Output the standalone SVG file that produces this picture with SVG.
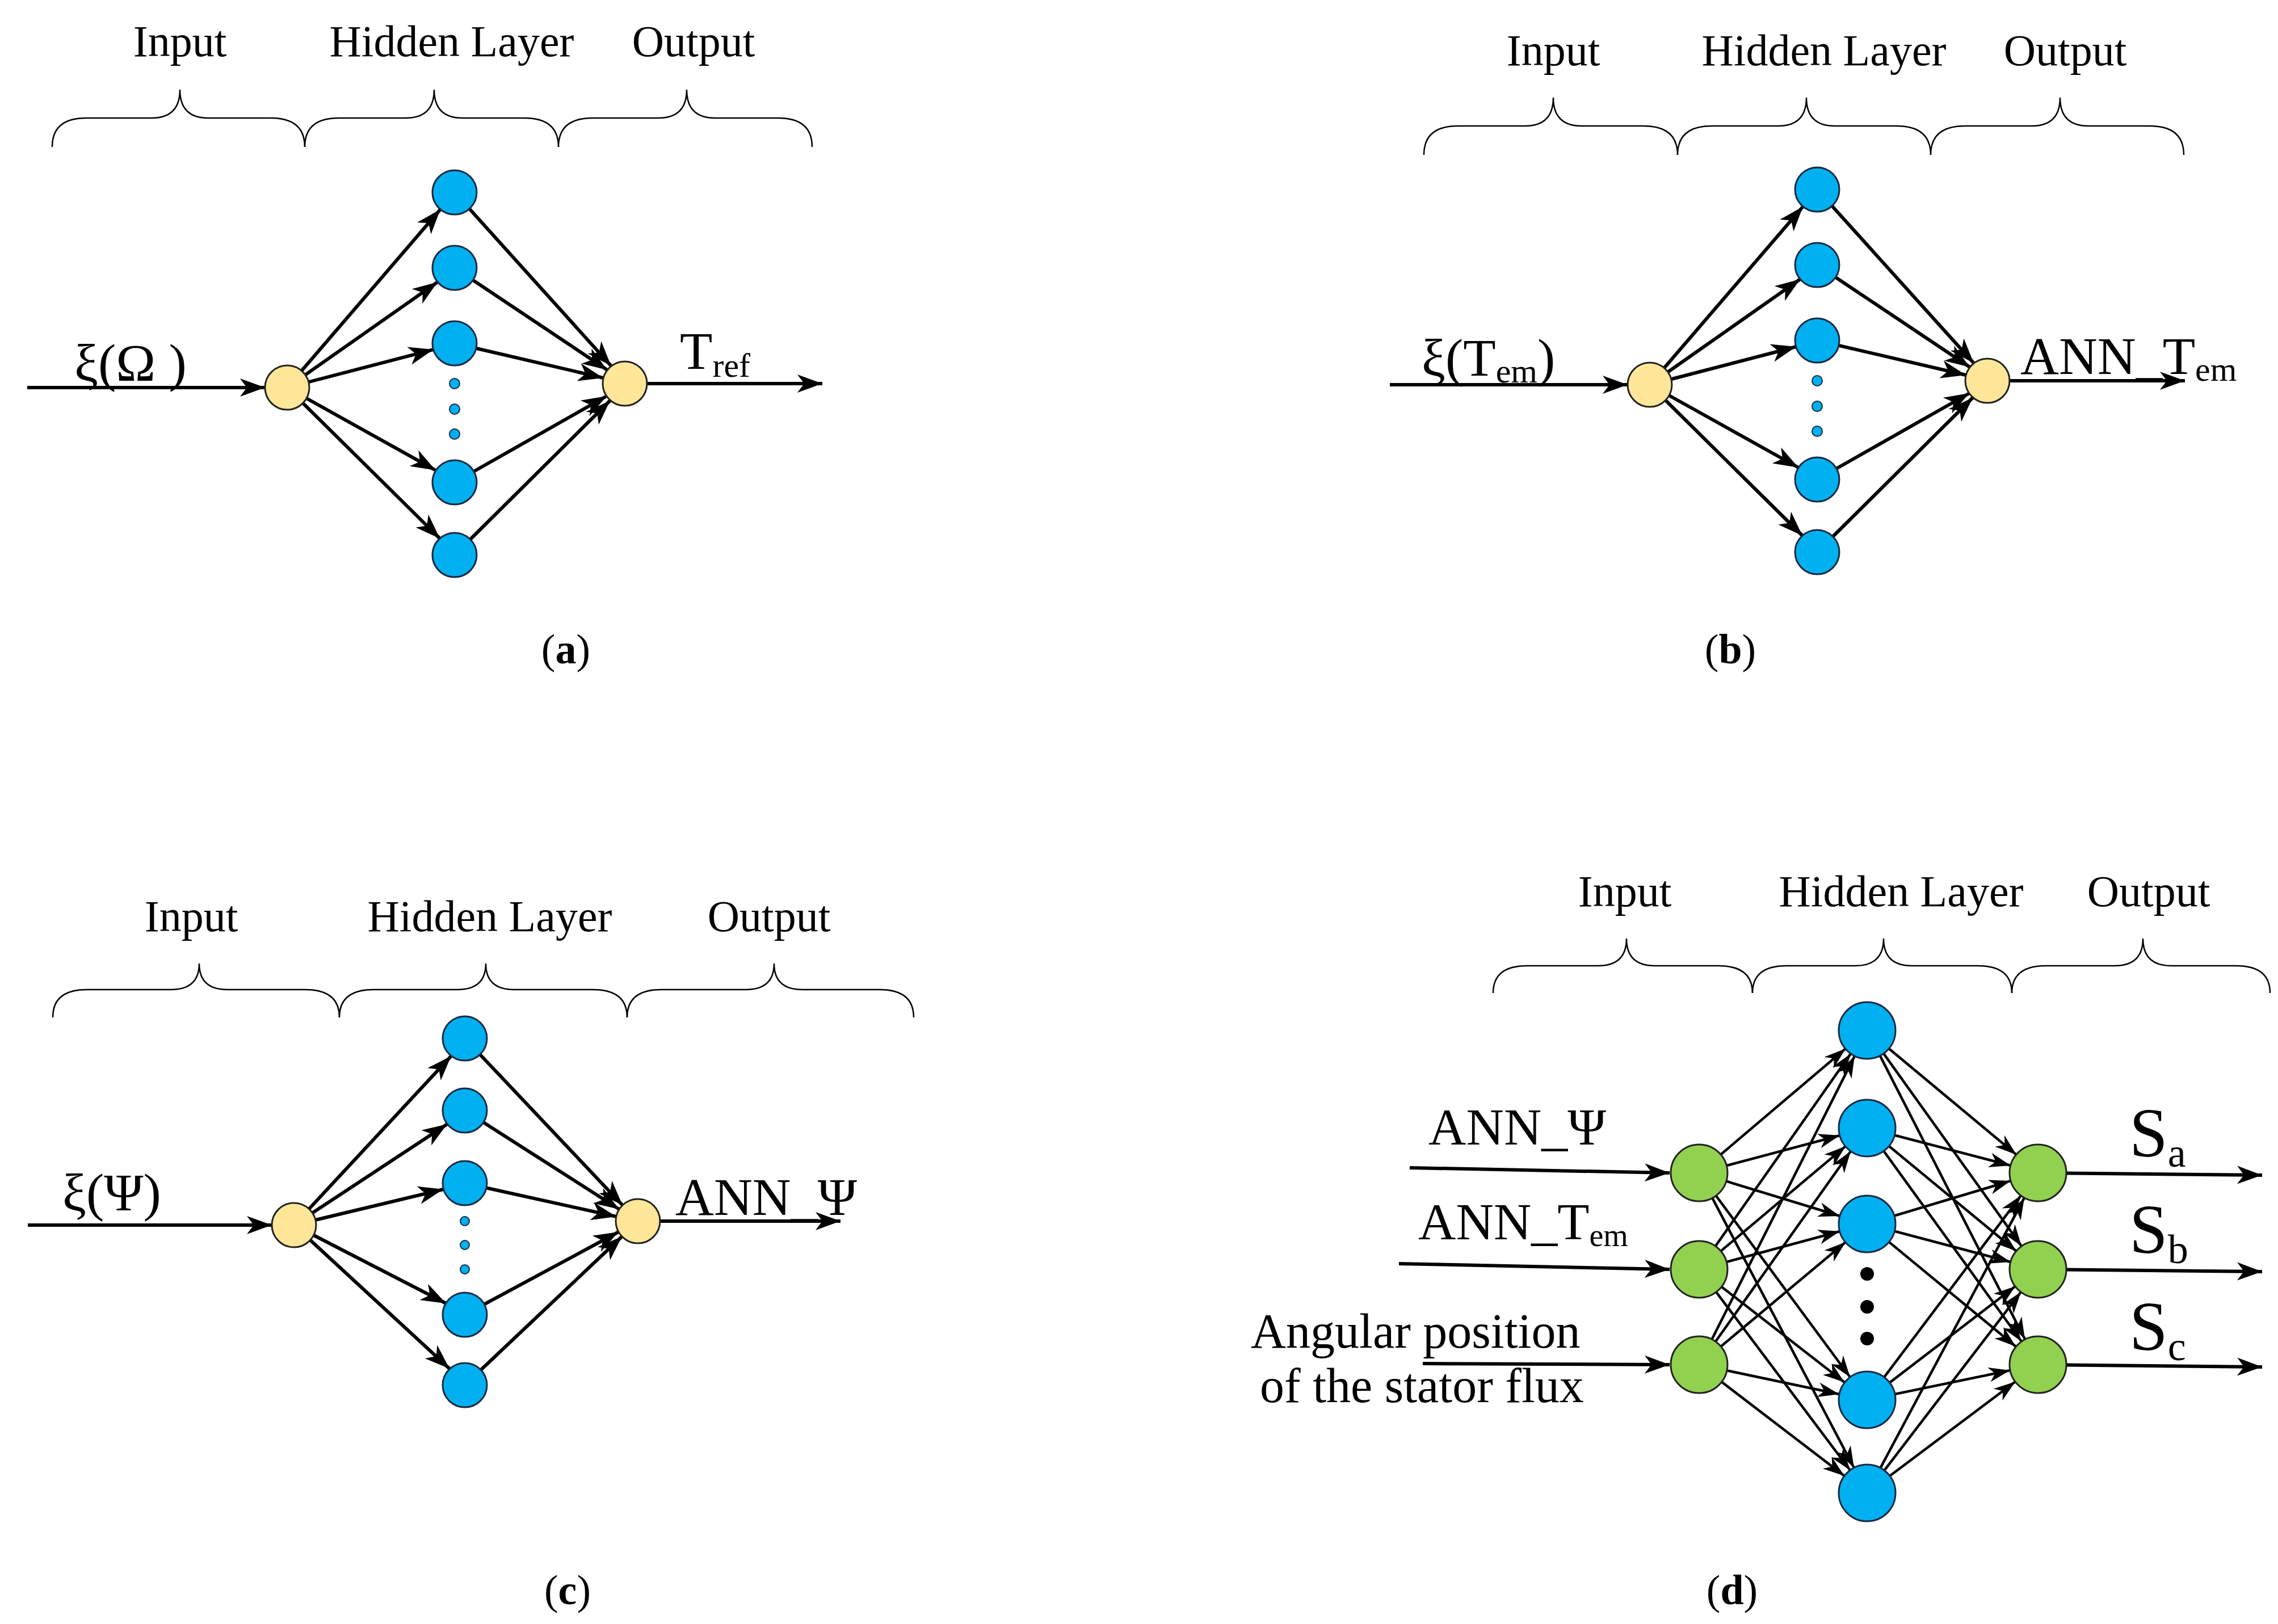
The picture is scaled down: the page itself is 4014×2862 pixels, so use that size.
<svg xmlns="http://www.w3.org/2000/svg" width="4014" height="2862" viewBox="0 0 4014 2862">
<defs>
<style>
.t{font-family:"Liberation Serif","Times New Roman",serif;fill:#000}
.lb{font-size:78px;text-anchor:middle}
.br{fill:none;stroke:#000;stroke-width:2.5}
.c{fill:none;stroke:#000;stroke-width:6;marker-end:url(#ah)}
.cd{fill:none;stroke:#000;stroke-width:4.5;marker-end:url(#ahd)}
.y{fill:#FFE699;stroke:#222;stroke-width:3}
.b{fill:#00B0F0;stroke:#1a2a40;stroke-width:3}
.g{fill:#92D050;stroke:#222;stroke-width:3}
.dot{fill:#00B0F0;stroke:#1a2a40;stroke-width:2}
</style>
<marker id="ah" markerUnits="userSpaceOnUse" viewBox="-46 -18 48 36" markerWidth="48" markerHeight="36" refX="0" refY="0" orient="auto"><path d="M0,0 L-44,-16 L-32,0 L-44,16 Z" fill="#000"/></marker>
<marker id="ahd" markerUnits="userSpaceOnUse" viewBox="-40 -15 42 30" markerWidth="42" markerHeight="30" refX="0" refY="0" orient="auto"><path d="M0,0 L-38,-13 L-27,0 L-38,13 Z" fill="#000"/></marker>
</defs>
<rect width="4014" height="2862" fill="#fff"/>

<!-- Panel a -->
<g id="braces-a" class="br">
<path d="M92,259 Q92,208 152,208 L267,208 Q317,208 317,158 Q317,208 367,208 L477,208 Q537,208 537,259"/>
<path d="M537,259 Q537,208 597,208 L715,208 Q765,208 765,158 Q765,208 815,208 L924,208 Q984,208 984,259"/>
<path d="M984,259 Q984,208 1044,208 L1160,208 Q1210,208 1210,158 Q1210,208 1260,208 L1371,208 Q1431,208 1431,259"/>
</g>
<g class="t lb"><text x="317" y="99">Input</text><text x="796" y="99">Hidden Layer</text><text x="1222" y="99">Output</text></g>
<g id="net-a">
<g id="connectors-a">
<path class="c" d="M48,683 L467,683"/>
<path class="c" d="M1101,676 L1449,676"/>
<path class="c" d="M506,683 L776,369"/>
<path class="c" d="M506,683 L771,497"/>
<path class="c" d="M506,683 L764,616"/>
<path class="c" d="M506,683 L768,829"/>
<path class="c" d="M506,683 L775,949"/>
<path class="c" d="M801,339 L1077,645"/>
<path class="c" d="M801,472 L1070,652"/>
<path class="c" d="M801,605 L1063,666"/>
<path class="c" d="M801,850 L1069,698"/>
<path class="c" d="M801,978 L1075,706"/>
</g>
<g id="a-in"><circle class="y" cx="506" cy="683" r="39"/></g>
<g id="a-h1"><circle class="b" cx="801" cy="339" r="39"/></g>
<g id="a-h2"><circle class="b" cx="801" cy="472" r="39"/></g>
<g id="a-h3"><circle class="b" cx="801" cy="605" r="39"/></g>
<g id="a-dots"><circle class="dot" cx="801" cy="676" r="9"/><circle class="dot" cx="801" cy="721" r="9"/><circle class="dot" cx="801" cy="765" r="9"/></g>
<g id="a-h4"><circle class="b" cx="801" cy="850" r="39"/></g>
<g id="a-h5"><circle class="b" cx="801" cy="978" r="39"/></g>
<g id="a-out"><circle class="y" cx="1101" cy="676" r="39"/></g>
</g>
<text class="t" x="131" y="671" font-size="94">ξ(Ω )</text>
<text class="t" x="1198" y="650" font-size="94">T<tspan font-size="60" dy="14">ref</tspan></text>
<text class="t" x="997" y="1169" font-size="74" text-anchor="middle">(<tspan font-weight="bold">a</tspan>)</text>

<!-- Panel b -->
<g id="braces-b" class="br">
<path d="M2509,273 Q2509,222 2569,222 L2687,222 Q2737,222 2737,172 Q2737,222 2787,222 L2896,222 Q2956,222 2956,273"/>
<path d="M2956,273 Q2956,222 3016,222 L3133,222 Q3183,222 3183,172 Q3183,222 3233,222 L3342,222 Q3402,222 3402,273"/>
<path d="M3402,273 Q3402,222 3462,222 L3580,222 Q3630,222 3630,172 Q3630,222 3680,222 L3788,222 Q3848,222 3848,273"/>
</g>
<g class="t lb"><text x="2737" y="115">Input</text><text x="3214" y="115">Hidden Layer</text><text x="3639" y="115">Output</text></g>
<text class="t" x="3560" y="659" font-size="94">ANN_T<tspan font-size="60" dy="12">em</tspan></text>
<g id="net-b" transform="translate(2401,-5)">
<g id="connectors-b">
<path class="c" d="M48,683 L467,683"/>
<path class="c" d="M1101,676 L1449,676" stroke-width="10"/>
<path class="c" d="M506,683 L776,369"/>
<path class="c" d="M506,683 L771,497"/>
<path class="c" d="M506,683 L764,616"/>
<path class="c" d="M506,683 L768,829"/>
<path class="c" d="M506,683 L775,949"/>
<path class="c" d="M801,339 L1077,645"/>
<path class="c" d="M801,472 L1070,652"/>
<path class="c" d="M801,605 L1063,666"/>
<path class="c" d="M801,850 L1069,698"/>
<path class="c" d="M801,978 L1075,706"/>
</g>
<g id="b-in"><circle class="y" cx="506" cy="683" r="39"/></g>
<g id="b-h1"><circle class="b" cx="801" cy="339" r="39"/></g>
<g id="b-h2"><circle class="b" cx="801" cy="472" r="39"/></g>
<g id="b-h3"><circle class="b" cx="801" cy="605" r="39"/></g>
<g id="b-dots"><circle class="dot" cx="801" cy="676" r="9"/><circle class="dot" cx="801" cy="721" r="9"/><circle class="dot" cx="801" cy="765" r="9"/></g>
<g id="b-h4"><circle class="b" cx="801" cy="850" r="39"/></g>
<g id="b-h5"><circle class="b" cx="801" cy="978" r="39"/></g>
<g id="b-out"><circle class="y" cx="1101" cy="676" r="39"/></g>
</g>
<text class="t" x="2505" y="662" font-size="94">ξ(T<tspan font-size="60" dy="12">em</tspan><tspan dy="-12">)</tspan></text>
<text class="t" x="3049" y="1169" font-size="74" text-anchor="middle">(<tspan font-weight="bold">b</tspan>)</text>

<!-- Panel c -->
<g id="braces-c" class="br">
<path d="M93,1793 Q93,1744 153,1744 L301,1744 Q351,1744 351,1698 Q351,1744 401,1744 L538,1744 Q598,1744 598,1793"/>
<path d="M598,1793 Q598,1744 658,1744 L806,1744 Q856,1744 856,1698 Q856,1744 906,1744 L1045,1744 Q1105,1744 1105,1793"/>
<path d="M1105,1793 Q1105,1744 1165,1744 L1314,1744 Q1364,1744 1364,1698 Q1364,1744 1414,1744 L1550,1744 Q1610,1744 1610,1793"/>
</g>
<g class="t lb"><text x="337" y="1641">Input</text><text x="863" y="1641">Hidden Layer</text><text x="1355" y="1641">Output</text></g>
<text class="t" x="1190" y="2141" font-size="94">ANN_Ψ</text>
<g id="net-c">
<g id="connectors-c">
<path class="c" d="M49,2159 L479,2159"/>
<path class="c" d="M1124,2152 L1481,2152" stroke-width="10"/>
<path class="c" d="M518,2159 L795,1861"/>
<path class="c" d="M518,2159 L788,1981"/>
<path class="c" d="M518,2159 L781,2096"/>
<path class="c" d="M518,2159 L786,2297"/>
<path class="c" d="M518,2159 L792,2412"/>
<path class="c" d="M819,1830 L1097,2124"/>
<path class="c" d="M819,1957 L1091,2131"/>
<path class="c" d="M819,2085 L1086,2144"/>
<path class="c" d="M819,2317 L1090,2171"/>
<path class="c" d="M819,2441 L1096,2179"/>
</g>
<g id="c-in"><circle class="y" cx="518" cy="2159" r="39"/></g>
<g id="c-h1"><circle class="b" cx="819" cy="1830" r="39"/></g>
<g id="c-h2"><circle class="b" cx="819" cy="1957" r="39"/></g>
<g id="c-h3"><circle class="b" cx="819" cy="2085" r="39"/></g>
<g id="c-dots"><circle class="dot" cx="819" cy="2152" r="8"/><circle class="dot" cx="819" cy="2194" r="8"/><circle class="dot" cx="819" cy="2237" r="8"/></g>
<g id="c-h4"><circle class="b" cx="819" cy="2317" r="39"/></g>
<g id="c-h5"><circle class="b" cx="819" cy="2441" r="39"/></g>
<g id="c-out"><circle class="y" cx="1124" cy="2152" r="39"/></g>
</g>
<text class="t" x="110" y="2133" font-size="94">ξ(Ψ)</text>
<text class="t" x="1000" y="2827" font-size="74" text-anchor="middle">(<tspan font-weight="bold">c</tspan>)</text>

<!-- Panel d -->
<g id="braces-d" class="br">
<path d="M2631,1750 Q2631,1702 2691,1702 L2816,1702 Q2866,1702 2866,1654 Q2866,1702 2916,1702 L3028,1702 Q3088,1702 3088,1750"/>
<path d="M3088,1750 Q3088,1702 3148,1702 L3269,1702 Q3319,1702 3319,1654 Q3319,1702 3369,1702 L3485,1702 Q3545,1702 3545,1750"/>
<path d="M3545,1750 Q3545,1702 3605,1702 L3726,1702 Q3776,1702 3776,1654 Q3776,1702 3826,1702 L3940,1702 Q4000,1702 4000,1750"/>
</g>
<g class="t lb"><text x="2863" y="1597">Input</text><text x="3350" y="1597">Hidden Layer</text><text x="3786" y="1597">Output</text></g>
<g id="net-d">
<g id="connectors-d">
<path class="c" d="M2484,2058 L2942,2067"/>
<path class="c" d="M2465,2227 L2942,2237"/>
<path class="c" d="M2507,2403 L2942,2405"/>
<path class="c" d="M3591,2067 L3986,2071"/>
<path class="c" d="M3591,2237 L3986,2241"/>
<path class="c" d="M3591,2405 L3986,2409"/>
<path class="cd" d="M2994,2067 L3252,1848"/>
<path class="cd" d="M2994,2067 L3242,2001"/>
<path class="cd" d="M2994,2067 L3242,2143"/>
<path class="cd" d="M2994,2067 L3260,2427"/>
<path class="cd" d="M2994,2067 L3267,2587"/>
<path class="cd" d="M2994,2237 L3261,1857"/>
<path class="cd" d="M2994,2237 L3252,2020"/>
<path class="cd" d="M2994,2237 L3242,2170"/>
<path class="cd" d="M2994,2237 L3250,2436"/>
<path class="cd" d="M2994,2237 L3260,2591"/>
<path class="cd" d="M2994,2405 L3268,1861"/>
<path class="cd" d="M2994,2405 L3261,2029"/>
<path class="cd" d="M2994,2405 L3252,2189"/>
<path class="cd" d="M2994,2405 L3241,2457"/>
<path class="cd" d="M2994,2405 L3250,2601"/>
<path class="cd" d="M3290,1816 L3553,2035"/>
<path class="cd" d="M3290,1988 L3543,2054"/>
<path class="cd" d="M3290,2157 L3543,2081"/>
<path class="cd" d="M3290,2467 L3561,2107"/>
<path class="cd" d="M3290,2631 L3567,2111"/>
<path class="cd" d="M3290,1816 L3562,2196"/>
<path class="cd" d="M3290,1988 L3553,2205"/>
<path class="cd" d="M3290,2157 L3543,2224"/>
<path class="cd" d="M3290,2467 L3551,2267"/>
<path class="cd" d="M3290,2631 L3561,2277"/>
<path class="cd" d="M3290,1816 L3568,2360"/>
<path class="cd" d="M3290,1988 L3562,2364"/>
<path class="cd" d="M3290,2157 L3552,2373"/>
<path class="cd" d="M3290,2467 L3542,2415"/>
<path class="cd" d="M3290,2631 L3551,2435"/>
</g>
<g id="d-in1"><circle class="g" cx="2994" cy="2067" r="50"/></g>
<g id="d-in2"><circle class="g" cx="2994" cy="2237" r="50"/></g>
<g id="d-in3"><circle class="g" cx="2994" cy="2405" r="50"/></g>
<g id="d-h1"><circle class="b" cx="3290" cy="1816" r="50"/></g>
<g id="d-h2"><circle class="b" cx="3290" cy="1988" r="50"/></g>
<g id="d-h3"><circle class="b" cx="3290" cy="2157" r="50"/></g>
<g id="d-dots"><circle cx="3290" cy="2245" r="12"/><circle cx="3290" cy="2303" r="12"/><circle cx="3290" cy="2359" r="12"/></g>
<g id="d-h4"><circle class="b" cx="3290" cy="2467" r="50"/></g>
<g id="d-h5"><circle class="b" cx="3290" cy="2631" r="50"/></g>
<g id="d-out1"><circle class="g" cx="3591" cy="2067" r="50"/></g>
<g id="d-out2"><circle class="g" cx="3591" cy="2237" r="50"/></g>
<g id="d-out3"><circle class="g" cx="3591" cy="2405" r="50"/></g>
</g>
<text class="t" x="2517" y="2017" font-size="92">ANN_Ψ</text>
<text class="t" x="2499" y="2184" font-size="92">ANN_T<tspan font-size="56" dy="12">em</tspan></text>
<text class="t" x="2204" y="2375" font-size="86">Angular position</text>
<text class="t" x="2220" y="2471" font-size="86">of the stator flux</text>
<text class="t" x="3752" y="2038" font-size="122">S<tspan font-size="72" dy="18">a</tspan></text>
<text class="t" x="3752" y="2208" font-size="122">S<tspan font-size="72" dy="18">b</tspan></text>
<text class="t" x="3752" y="2379" font-size="122">S<tspan font-size="72" dy="18">c</tspan></text>
<text class="t" x="3052" y="2827" font-size="74" text-anchor="middle">(<tspan font-weight="bold">d</tspan>)</text>
</svg>
